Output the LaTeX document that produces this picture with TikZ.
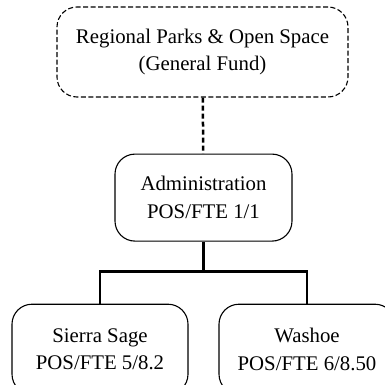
\documentclass[tikz,border=0pt]{standalone}
\usepackage{fontspec}
\setmainfont{Liberation Serif}
\usetikzlibrary{positioning}

\begin{document}
\begin{tikzpicture}[
  font=\fontsize{20.8}{27.5}\selectfont,
  box/.style={draw=black, line width=1.1pt, rounded corners=20pt, align=center, inner sep=0pt, fill=white},
  fundbox/.style={box, dash pattern=on 5pt off 2.5pt, minimum width=291pt, minimum height=90pt},
  unitbox/.style={box, minimum width=177pt, minimum height=87pt},
  leafbox/.style={box, minimum width=176pt, minimum height=90pt},
  conn/.style={line width=2.5pt, black},
  dconn/.style={conn, dash pattern=on 5pt off 3pt}
]
\clip (0,0) rectangle (385pt,-385pt);
\node[fundbox] (fund) at (202.5pt,-52pt) {Regional Parks \& Open Space\\(General Fund)};
\node[unitbox, below=56pt of fund, xshift=1pt] (admin) {Administration\\POS/FTE 1/1};
\node[leafbox, below=62pt of admin, xshift=-103.5pt] (sierra) {Sierra Sage\\POS/FTE 5/8.2};
\node[leafbox, below=62pt of admin, xshift=103.5pt] (washoe) {Washoe\\POS/FTE 6/8.50};
\coordinate[below=30pt of admin] (bus);
\draw[dconn] (fund) -- (admin);
\draw[conn] (admin) -- (bus);
\draw[conn] (sierra.north) |- (bus) -| (washoe.north);
\end{tikzpicture}
\end{document}
